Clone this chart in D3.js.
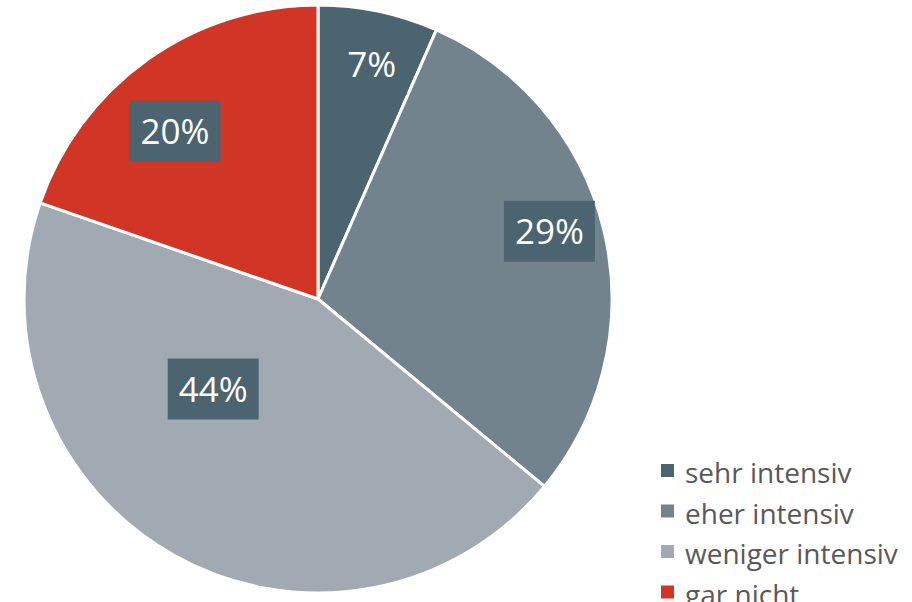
<!DOCTYPE html>
<html>
<head>
<meta charset="utf-8">
<script src="https://cdn.jsdelivr.net/npm/d3@7/dist/d3.min.js"></script>
<style>
  html, body { margin: 0; padding: 0; background: #fff; }
  svg { display: block; font-family: "Open Sans", sans-serif; }
</style>
</head>
<body>
<div id="chart"></div>
<script>
// values (slice angles), labels shown rounded
const categories = ["sehr intensiv", "eher intensiv", "weniger intensiv", "gar nicht"];
const values = [6.6, 29.4, 44.3, 19.7];
const labels = ["7%", "29%", "44%", "20%"];
const colors = ["#4b6470", "#72838e", "#a1a9b3", "#d13526"];

const width = 912, height = 602;
const cx = 318, cy = 299, radius = 294;

// label placement tweaks (radius fraction, angle shift in degrees)
const labelRadius = [0.82, 0.82, 0.47, 0.75];
const labelShift = [1, -3, 20, -5];

const svg = d3.select("#chart").append("svg")
  .attr("width", width)
  .attr("height", height);

const pie = d3.pie().sort(null).value(d => d);
const arcs = pie(values);

const arc = d3.arc().innerRadius(0).outerRadius(radius);

const g = svg.append("g").attr("transform", `translate(${cx},${cy})`);

g.selectAll("path.slice")
  .data(arcs)
  .enter().append("path")
  .attr("class", "slice")
  .attr("d", arc)
  .attr("fill", (d, i) => colors[i])
  .attr("stroke", "#fff")
  .attr("stroke-width", 3)
  .attr("stroke-linejoin", "round");

const padX = 11, boxH = 61;

const lab = g.selectAll("g.lab")
  .data(arcs)
  .enter().append("g")
  .attr("class", "lab")
  .attr("transform", (d, i) => {
    let a = (d.startAngle + d.endAngle) / 2 + labelShift[i] * Math.PI / 180;
    let r = radius * labelRadius[i];
    return `translate(${r * Math.sin(a)},${-r * Math.cos(a)})`;
  });

lab.append("rect").attr("fill", "#4b6470");

lab.append("text")
  .attr("text-anchor", "middle")
  .attr("dy", "0.36em")
  .attr("fill", "#fff")
  .style("font-size", "35px")
  .text((d, i) => labels[i]);

// box sized to its text
lab.each(function() {
  let t = d3.select(this).select("text").node().getBBox();
  let w = t.width + 2 * padX;
  d3.select(this).select("rect")
    .attr("x", -w / 2)
    .attr("y", -boxH / 2)
    .attr("width", w)
    .attr("height", boxH);
});

// legend
const legend = svg.append("g").attr("transform", "translate(661,464)");
const rowH = 40.5;

const item = legend.selectAll("g.item")
  .data(categories)
  .enter().append("g")
  .attr("class", "item")
  .attr("transform", (d, i) => `translate(0,${i * rowH})`);

item.append("rect")
  .attr("width", 13)
  .attr("height", 13)
  .attr("fill", (d, i) => colors[i]);

item.append("text")
  .attr("x", 24)
  .attr("y", 19)
  .attr("fill", "#595959")
  .style("font-size", "28px")
  .text(d => d);
</script>
</body>
</html>
